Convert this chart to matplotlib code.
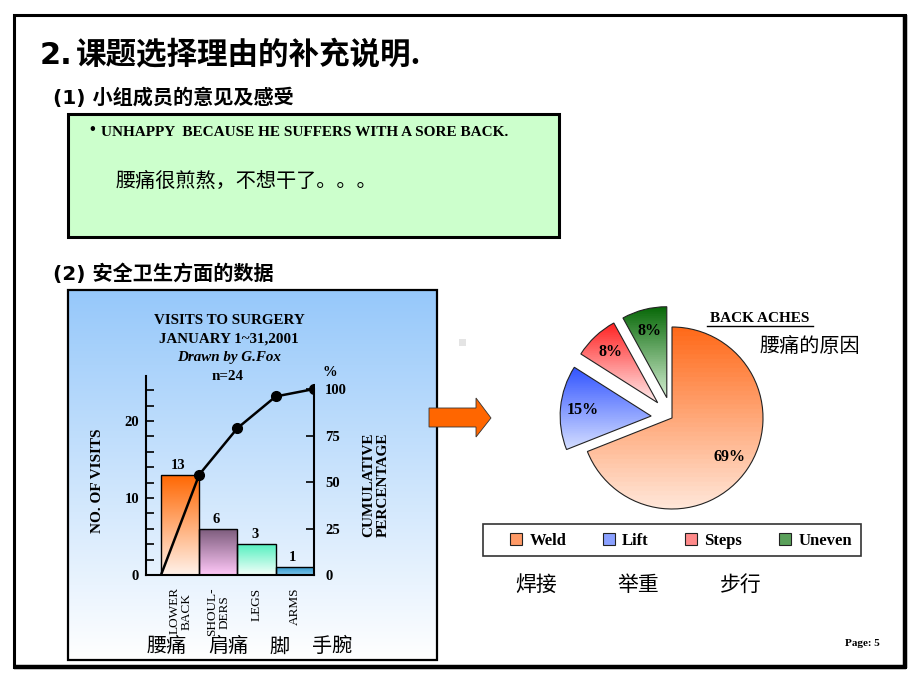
import numpy as np
import matplotlib
matplotlib.use('Agg')
import matplotlib.pyplot as plt
from matplotlib.patches import Rectangle, Polygon
from matplotlib.colors import to_rgb

plt.rcParams['font.family'] = ['DejaVu Sans', 'Noto Sans CJK SC']

# ---------------- data ----------------
pareto_categories = ["LOWER\nBACK", "SHOUL-\nDERS", "LEGS", "ARMS"]
pareto_categories_zh = ["腰痛", "肩痛", "脚", "手腕"]
visits = [13, 6, 4, 1]                 # bar heights as drawn
visit_labels = ["13", "6", "3", "1"]   # printed values
cumulative_pct = [54, 79, 96, 100]
left_ticks = [0, 10, 20]
right_ticks = [0, 25, 50, 75, 100]

pie_labels = ["Weld", "Lift", "Steps", "Uneven"]
pie_labels_zh = ["焊接", "举重", "步行"]
pie_values = [69, 15, 8, 8]

SERIF = 'Liberation Serif'
CJK = ['Noto Sans CJK SC', 'DejaVu Sans']
W, H = 920, 690

fig = plt.figure(figsize=(9.2, 6.9), dpi=100)
bg = fig.add_axes([0, 0, 1, 1])
bg.set_axis_off()


def fx(px):
    return px / W


def fy(py):
    return (H - py) / H


def gradient(ax, extent, top, bottom, clip=None, zorder=0, bands=None, n=200):
    t = np.linspace(0, 1, n)
    if bands:
        t = np.floor(t * bands) / (bands - 1)
        t = np.clip(t, 0, 1)
    c0 = np.array(to_rgb(top))
    c1 = np.array(to_rgb(bottom))
    img = c0[None, None, :] * (1 - t[:, None, None]) + c1[None, None, :] * t[:, None, None]
    im = ax.imshow(img, extent=extent, origin='upper', aspect='auto',
                   zorder=zorder, interpolation='bilinear')
    if clip is not None:
        im.set_clip_path(clip)
    return im


# ---------------- slide background elements ----------------
bg.add_patch(Rectangle((14, 15), 891, 652, fc='white', ec='black', lw=2.2, zorder=1))
bg.plot([905, 905], [15, 668], color='black', lw=3.2, zorder=2, solid_capstyle='butt')
bg.plot([14, 906], [667, 667], color='black', lw=3.2, zorder=2, solid_capstyle='butt')

bg.text(40, 55, "2.", fontsize=22, fontweight='bold', ha='left', va='center', zorder=3)
bg.text(76, 55, "课题选择理由的补充说明.", fontsize=22, fontweight='bold',
        family=CJK, ha='left', va='center', zorder=3)
bg.text(53, 98, "(1) 小组成员的意见及感受", fontsize=14.5, fontweight='bold',
        ha='left', va='center', zorder=3)
bg.text(53, 274, "(2) 安全卫生方面的数据", fontsize=14.5, fontweight='bold',
        ha='left', va='center', zorder=3)

# green comment box
bg.add_patch(Rectangle((68, 114), 491, 123, fc='#CCFFCC', ec='black', lw=2.2, zorder=2))
bg.text(92, 130, "•", fontsize=12, fontweight='bold', ha='center', va='center',
        family=SERIF, zorder=3)
bg.text(101, 133, "UNHAPPY  BECAUSE HE SUFFERS WITH A SORE BACK.", fontsize=11,
        family=SERIF, fontweight='bold', ha='left', va='center', zorder=3)
bg.text(116, 181, "腰痛很煎熬，不想干了。。。", fontsize=14.5, family=CJK,
        ha='left', va='center', zorder=3)

# pareto panel background
gradient(bg, (68, 437, 660, 290), '#96C8FA', '#FFFFFF', zorder=2)
bg.add_patch(Rectangle((68, 290), 369, 370, fc='none', ec='black', lw=1.6, zorder=3))

for i, s in enumerate(["VISITS TO SURGERY", "JANUARY 1~31,2001"]):
    bg.text(229, 321 + 18.5 * i, s, fontsize=10.8, family=SERIF, fontweight='bold',
            ha='center', va='center', zorder=4)
bg.text(229, 358, "Drawn by G.Fox", fontsize=10.8, family=SERIF, fontweight='bold',
        style='italic', ha='center', va='center', zorder=4)
bg.text(228, 376, "n=24", fontsize=10.8, family=SERIF, fontweight='bold',
        ha='center', va='center', zorder=4)
bg.text(330, 373, "%", fontsize=10.5, family=SERIF, fontweight='bold',
        ha='center', va='center', zorder=4)
bg.text(98, 481, "NO. OF VISITS", fontsize=11, family=SERIF, fontweight='bold',
        rotation=90, ha='center', va='center', zorder=4)
bg.text(376, 485, "CUMULATIVE\nPERCENTAGE", fontsize=11, family=SERIF, fontweight='bold',
        rotation=90, ha='center', va='center', multialignment='center',
        linespacing=1.15, zorder=4)
for s, x in zip(pareto_categories_zh, [167, 228, 280, 332]):
    bg.text(x, 647, s, fontsize=14.5, family=CJK, ha='center', va='center', zorder=4)

# arrow
arrow = Polygon([(429, 408), (476, 408), (476, 398), (491, 418), (476, 437),
                 (476, 427), (429, 427)], closed=True, fc='#FF6600', ec='#333333',
                lw=0.6, zorder=5)
bg.add_patch(arrow)
bg.add_patch(Rectangle((459, 339), 7, 7, fc='#E4E4E4', ec='none', zorder=3))

# pie titles
bg.text(760, 318, "BACK ACHES", fontsize=11, family=SERIF, fontweight='bold',
        ha='center', va='center', zorder=4)
bg.plot([707, 813], [326, 326], color='black', lw=1.0, zorder=4)
bg.text(810, 347, "腰痛的原因", fontsize=14.5, family=CJK, ha='center', va='center', zorder=4)
for s, x in zip(pie_labels_zh, [536, 638, 741]):
    bg.text(x, 585, s, fontsize=15, family=CJK, ha='center', va='center', zorder=4)

# legend frame
bg.add_patch(Rectangle((483, 524), 378, 32, fc='white', ec='#333333', lw=1.2, zorder=3))

bg.text(862, 644, "Page: 5", fontsize=8, family=SERIF, fontweight='bold',
        ha='center', va='center', zorder=4)

bg.set_xlim(0, W)
bg.set_ylim(H, 0)

# ---------------- pareto chart ----------------
axp = fig.add_axes([fx(146), fy(575), (314 - 146) / W, (575 - 376) / H])
axp.patch.set_alpha(0)
x = np.arange(len(visits))
bars = axp.bar(x, visits, width=1.0, fc='none', ec='black', lw=1.0, zorder=3)
bar_cols = [('#FF6600', '#FFF2EA'), ('#7A5A7A', '#FFC8F8'),
            ('#55F0C0', '#F4FFFA'), ('#3399CC', '#7CC4EA')]
for b, (ct, cb) in zip(bars, bar_cols):
    bb = b.get_bbox()
    gradient(axp, (bb.x0, bb.x1, bb.y0, bb.y1), ct, cb, clip=b, zorder=2)
for xi, v, lab in zip(x, visits, visit_labels):
    axp.text(xi - 0.05, v + 0.4, lab, fontsize=10.5, family=SERIF, fontweight='bold',
             ha='center', va='bottom', zorder=4)

axp.set_xlim(-0.892, 3.5)
axp.set_ylim(0, 25.85)
axp.set_yticks(left_ticks)
axp.set_yticks(np.arange(0, 26, 2), minor=True)
axp.tick_params(axis='y', which='both', direction='in', length=6, width=1.2, pad=5)
axp.set_xticks(x)
axp.set_xticklabels(pareto_categories, rotation=90, family=SERIF, fontsize=9.5,
                    multialignment='center', linespacing=1.0)
axp.tick_params(axis='x', length=0, pad=9)
for lab in axp.get_yticklabels():
    lab.set_family(SERIF)
    lab.set_fontweight('bold')
    lab.set_fontsize(10.5)
for sp in ['top', 'right']:
    axp.spines[sp].set_visible(False)
for sp in ['left', 'bottom']:
    axp.spines[sp].set_linewidth(1.5)

axr = axp.twinx()
axr.patch.set_alpha(0)
xc = np.concatenate([[x[0] - 0.5], x + 0.5])
axr.plot(xc, [0] + cumulative_pct, color='black', lw=1.8, zorder=5)
axr.plot(x + 0.5, cumulative_pct, 'o', color='black', ms=7, zorder=6)
axr.set_ylim(0, 107)
axr.set_yticks(right_ticks)
axr.tick_params(axis='y', direction='in', length=6, width=1.2, pad=8)
for lab in axr.get_yticklabels():
    lab.set_family(SERIF)
    lab.set_fontweight('bold')
    lab.set_fontsize(10.5)
for sp in ['top', 'left', 'bottom']:
    axr.spines[sp].set_visible(False)
axr.spines['right'].set_linewidth(1.5)
axr.spines['right'].set_bounds(0, 100)
axr.set_xlim(-0.892, 3.5)

# ---------------- pie chart ----------------
R = 91
half = 150
axpie = fig.add_axes([fx(672 - half), fy(418 + half), 2 * half / W, 2 * half / H])
axpie.patch.set_alpha(0)
pie_cols = [('#FF6A1A', '#FFE6D8'), ('#3355FF', '#D4DEFF'),
            ('#FF2424', '#FFECEC'), ('#0A6A0A', '#D2EED0')]
mid_cols = ['#FF9A66', '#8AA0FF', '#FF8A8A', '#5AA05A']
wedges, texts, autotexts = axpie.pie(
    pie_values, explode=[0, 0.23, 0.23, 0.23], startangle=90, counterclock=False,
    colors=mid_cols, wedgeprops=dict(edgecolor='#222222', linewidth=0.8),
    autopct=lambda p: f'{p:.0f}%', pctdistance=0.76,
    textprops=dict(family=SERIF, fontweight='bold', fontsize=11.5))
for t in autotexts:
    t.set_zorder(5)

leg = fig.legend(wedges, pie_labels, loc='center', ncol=4,
                 bbox_to_anchor=(fx(681), fy(541)),
                 borderaxespad=0, frameon=False,
                 handlelength=0.7, handleheight=0.7, handletextpad=0.45,
                 columnspacing=2.2, borderpad=0.3,
                 prop=dict(family=SERIF, weight='bold', size=12))
leg.set_zorder(6)

for w, (ct, cb) in zip(wedges, pie_cols):
    w.set_facecolor('none')
    bb = w.get_path().get_extents()
    gradient(axpie, (bb.x0, bb.x1, bb.y0, bb.y1), ct, cb, clip=w, zorder=0, bands=40)

lim = half / R
axpie.set_xlim(-lim, lim)
axpie.set_ylim(-lim, lim)
axpie.set_axis_off()

fig.savefig('out.png', dpi=100)
